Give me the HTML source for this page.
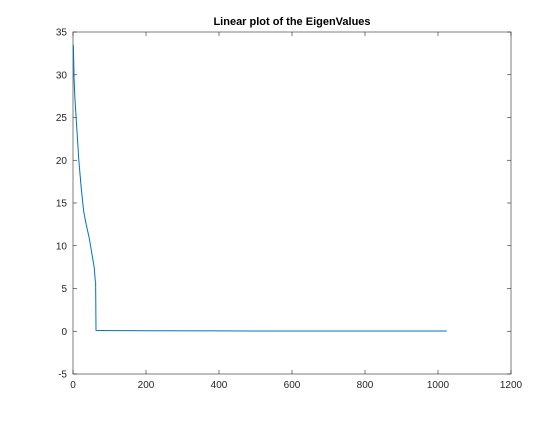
<!DOCTYPE html>
<html><head><meta charset="utf-8"><style>
body{margin:0;background:#fff;}
svg text{font-family:"Liberation Sans",sans-serif;}
</style></head><body>
<svg width="560" height="420">
<rect x="0" y="0" width="560" height="420" fill="#fff"/>
<g id="axes"></g>
<text x="292" y="25" text-anchor="middle" font-size="11" font-weight="bold" fill="#000">Linear plot of the EigenValues</text>
</svg>
<script>
const xIdx=[1,3,5,10,16,22,29,36,44,52,58,61,62,63,100,200,400,600,800,1024];
const yVals=[33.5,29.5,27.4,24,20,17,14.1,12.5,11,9,7.5,5.9,5.8,0.1,0.08,0.06,0.04,0.03,0.03,0.03];
const xTicks=[0,200,400,600,800,1000,1200];
const yTicks=[-5,0,5,10,15,20,25,30,35];
const L=73,R=511,T=32,B=374;
const sx=v=>L+(v-0)/1200*(R-L);
const sy=v=>B-(v+5)/40*(B-T);
const g=document.getElementById('axes');
const NS='http://www.w3.org/2000/svg';
function mk(t,a){const e=document.createElementNS(NS,t);for(const k in a)e.setAttribute(k,a[k]);g.appendChild(e);return e;}
const box=mk('rect',{x:L,y:T,width:R-L,height:B-T,fill:'none',stroke:'#262626','stroke-width':0.6});


xTicks.forEach(v=>{
 const x=sx(v);
 mk('line',{x1:x,x2:x,y1:B,y2:B-4,stroke:'#262626','stroke-width':0.6});
 mk('line',{x1:x,x2:x,y1:T,y2:T+4,stroke:'#262626','stroke-width':0.6});
 const t=mk('text',{x:x,y:B+14,'text-anchor':'middle','font-size':10,fill:'#262626'});
 t.textContent=v;
 
 
});
yTicks.forEach(v=>{
 const y=sy(v);
 mk('line',{x1:L,x2:L+4,y1:y,y2:y,stroke:'#262626','stroke-width':0.6});
 mk('line',{x1:R,x2:R-4,y1:y,y2:y,stroke:'#262626','stroke-width':0.6});
 const t=mk('text',{x:L-6,y:y+3.5,'text-anchor':'end','font-size':10,fill:'#262626'});
 t.textContent=v;
 
 
});
const d=xIdx.map((x,i)=>(i?'L':'M')+sx(x).toFixed(2)+' '+sy(yVals[i]).toFixed(2)).join(' ');
const p=mk('path',{d:d,fill:'none',stroke:'#0072bd','stroke-width':1});


</script>
</body></html>
